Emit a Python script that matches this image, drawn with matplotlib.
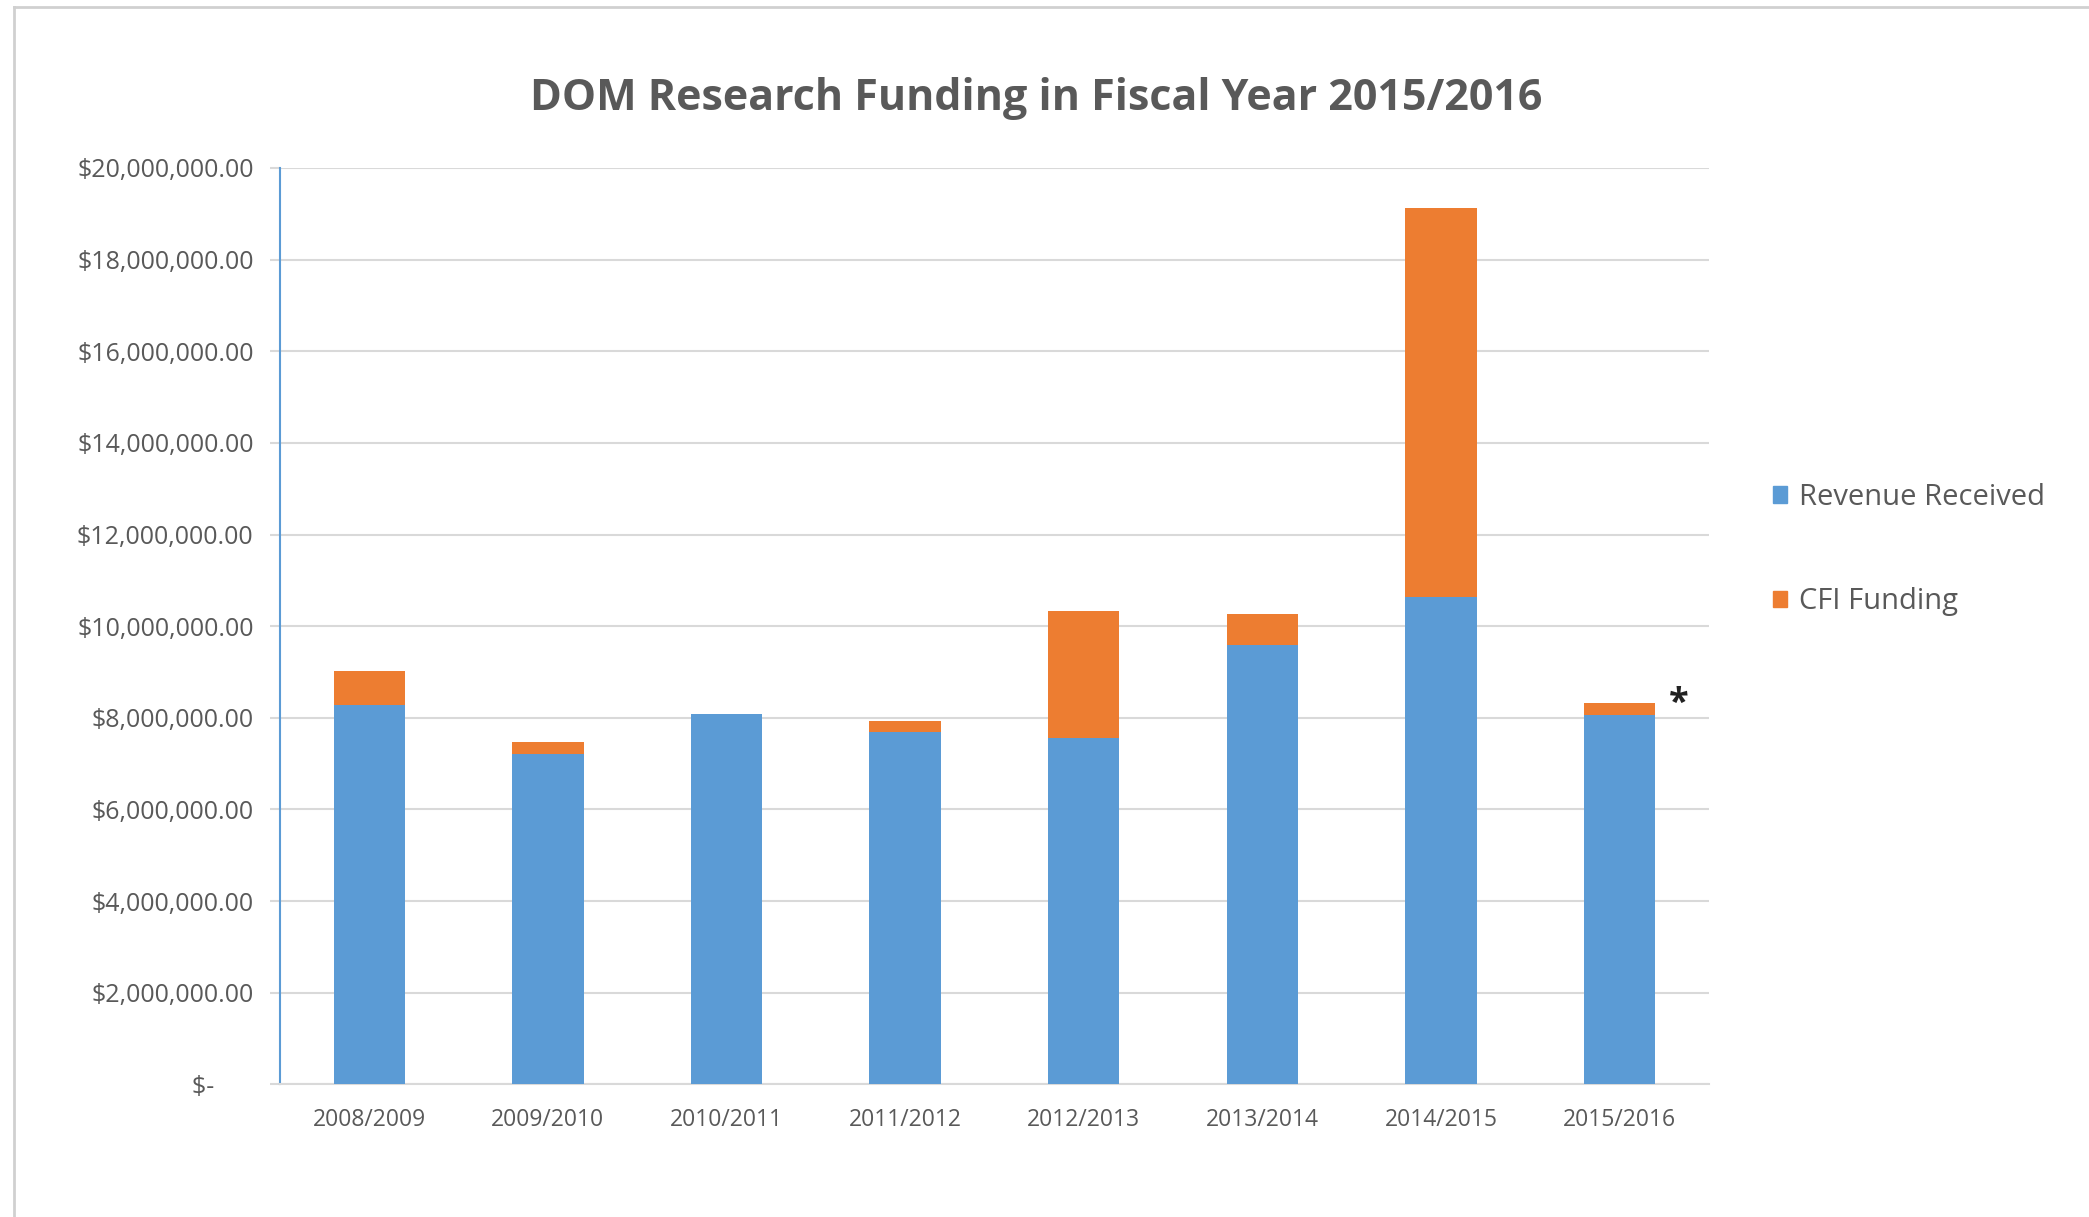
import matplotlib.pyplot as plt
from matplotlib.patches import Patch
from matplotlib.ticker import FuncFormatter

plt.rcParams['font.family'] = ['Open Sans', 'DejaVu Sans']

# values (dollars)
years = ['2008/2009', '2009/2010', '2010/2011', '2011/2012',
         '2012/2013', '2013/2014', '2014/2015', '2015/2016']
revenue = [8280000, 7200000, 8090000, 7690000, 7550000, 9590000, 10640000, 8070000]
cfi_total = [9020000, 7470000, 8090000, 7930000, 10330000, 10260000, 19120000, 8330000]
cfi = [t - r for t, r in zip(cfi_total, revenue)]

blue = '#5B9BD5'
orange = '#ED7D31'
txt = '#595959'
grid = '#D9D9D9'

fig = plt.figure(figsize=(20.89, 12.17), dpi=100)
ax = fig.add_axes([0.134, 0.109, 0.684, 0.753])

x = range(len(years))
ax.bar(x, revenue, width=0.4, color=blue, zorder=3)
ax.bar(x, cfi, width=0.4, bottom=revenue, color=orange, zorder=3)

ax.set_xlim(-0.5, len(years) - 0.5)
ax.set_ylim(0, 20000000)
ax.set_yticks(range(0, 20000001, 2000000))


def money(v, pos):
    if v == 0:
        return '$-      '
    return '${:,.2f}'.format(v)


ax.yaxis.set_major_formatter(FuncFormatter(money))
ax.set_xticks(list(x))
ax.set_xticklabels(years)
ax.grid(axis='y', color=grid, linewidth=1.5, zorder=0)
ax.tick_params(axis='y', colors=grid, labelcolor=txt, labelsize=18, length=7, width=1.5, pad=12)
ax.tick_params(axis='x', length=0, labelcolor=txt, labelsize=16.5, pad=17)

for s in ['top', 'right']:
    ax.spines[s].set_visible(False)
ax.spines['left'].set_color(blue)
ax.spines['left'].set_linewidth(1.5)
ax.spines['bottom'].set_color(grid)
ax.spines['bottom'].set_linewidth(1.5)

# asterisk next to the last bar
ax.text(7.33, 8300000, '*', fontsize=26, fontweight='bold', color='#222222',
        ha='center', va='center')

fig.text(0.496, 0.919, 'DOM Research Funding in Fiscal Year 2015/2016',
         ha='center', va='center', fontsize=31, fontweight='bold', color=txt)

handles = [Patch(color=blue, label='Revenue Received'),
           Patch(color=orange, label='CFI Funding')]
fig.legend(handles=handles, loc='upper left', bbox_to_anchor=(0.836, 0.625),
           frameon=False, fontsize=21, labelcolor=txt, handlelength=0.5,
           handleheight=0.5, handletextpad=0.4, labelspacing=2.6)

# light frame around the chart area
fig.add_artist(plt.Line2D([0.0065, 0.0065], [0, 0.994], color='#D0D0D0', linewidth=2))
fig.add_artist(plt.Line2D([0.0065, 1], [0.994, 0.994], color='#D0D0D0', linewidth=2))

fig.savefig('out.png', dpi=100)
